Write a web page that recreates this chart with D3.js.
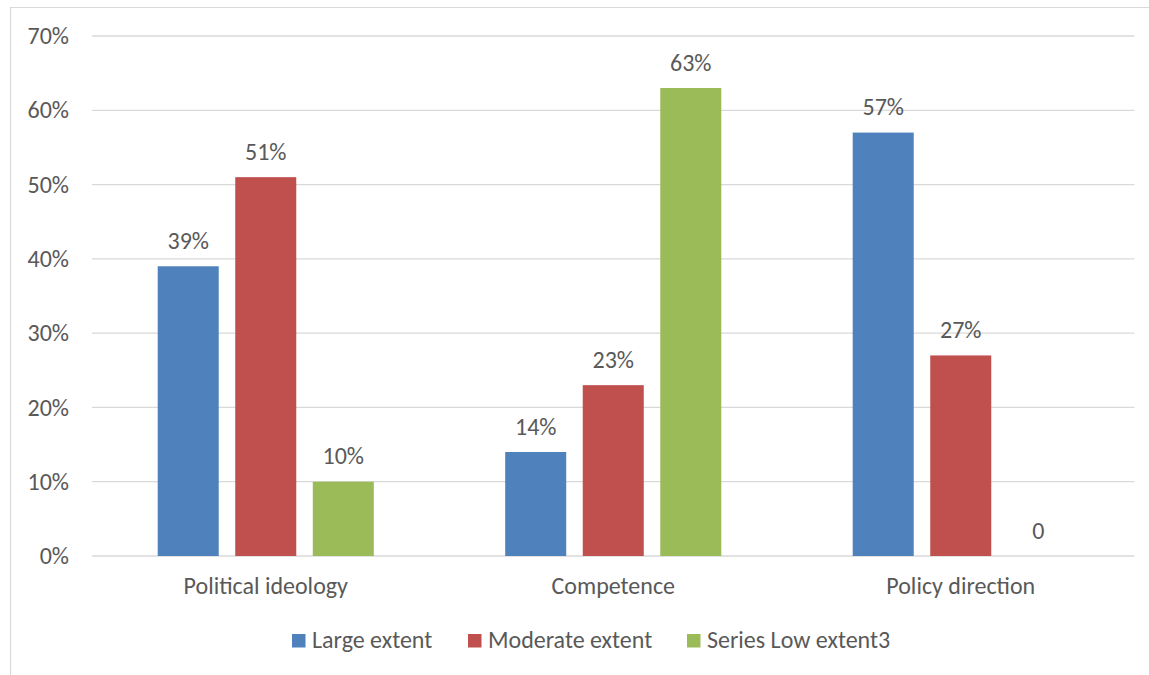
<!DOCTYPE html>
<html>
<head>
<meta charset="utf-8">
<script src="https://cdn.jsdelivr.net/npm/d3@7/dist/d3.min.js"></script>
<style>
  html, body { margin: 0; padding: 0; background: #fff; }
  svg { display: block; }
  text { font-family: Carlito, "Open Sans", sans-serif; fill: #595959; }
</style>
</head>
<body>
<svg id="chart" width="1149" height="675"></svg>
<script>
// Chart data
const categories = ["Political ideology", "Competence", "Policy direction"];
const seriesNames = ["Large extent", "Moderate extent", "Series Low extent3"];
const largeExtent = [39, 14, 57];
const moderateExtent = [51, 23, 27];
const lowExtent = [10, 63, 0];
const yTicks = [0, 10, 20, 30, 40, 50, 60, 70];
const seriesColors = ["#4F81BD", "#C0504D", "#9BBB59"];

const seriesValues = [largeExtent, moderateExtent, lowExtent];

const svg = d3.select("#chart");
const fontSize = 24;

// Outer frame of the chart area
svg.append("path")
  .attr("d", "M10.5,675 L10.5,7.5 L1149,7.5")
  .attr("fill", "none")
  .attr("stroke", "#d9d9d9")
  .attr("stroke-width", 1.2);

const plot = { left: 92, right: 1134.5, top: 36, bottom: 556 };

const y = d3.scaleLinear().domain([0, 70]).range([plot.bottom, plot.top]);
const x0 = d3.scaleBand().domain(categories).range([plot.left, plot.right]).padding(0);
const groupPad = 65.7;
const x1 = d3.scaleBand().domain(seriesNames)
  .range([groupPad, x0.bandwidth() - groupPad])
  .paddingInner(0.213).paddingOuter(0);

// Horizontal gridlines
svg.append("g").selectAll("line").data(yTicks).join("line")
  .attr("x1", plot.left).attr("x2", plot.right)
  .attr("y1", d => y(d)).attr("y2", d => y(d))
  .attr("stroke", "#d9d9d9").attr("stroke-width", 1.3);

// Y axis labels
const yAxis = d3.axisLeft(y).tickValues(yTicks).tickFormat(d => d + "%").tickSize(0).tickPadding(23);
const gy = svg.append("g").attr("transform", `translate(${plot.left},0)`).call(yAxis);
gy.select(".domain").remove();
gy.selectAll("text").attr("font-size", fontSize).attr("fill", "#595959")
  .style("font-family", 'Carlito, "Open Sans", sans-serif');

// X axis category labels
const xAxis = d3.axisBottom(x0).tickSize(0).tickPadding(21);
const gx = svg.append("g").attr("transform", `translate(0,${plot.bottom})`).call(xAxis);
gx.select(".domain").remove();
gx.selectAll("text").attr("font-size", fontSize).attr("fill", "#595959")
  .style("font-family", 'Carlito, "Open Sans", sans-serif');

// Bars and value labels
const rows = [];
categories.forEach((c, ci) => {
  seriesNames.forEach((s, si) => {
    rows.push({ cat: c, series: s, si, value: seriesValues[si][ci] });
  });
});

const groups = svg.append("g");
groups.selectAll("rect").data(rows).join("rect")
  .attr("x", d => x0(d.cat) + x1(d.series))
  .attr("y", d => y(d.value))
  .attr("width", x1.bandwidth())
  .attr("height", d => plot.bottom - y(d.value))
  .attr("fill", d => seriesColors[d.si]);

groups.selectAll("text").data(rows).join("text")
  .attr("x", d => x0(d.cat) + x1(d.series) + x1.bandwidth() / 2)
  .attr("y", d => y(d.value) - 17.5)
  .attr("text-anchor", "middle")
  .attr("font-size", fontSize)
  .text(d => d.value === 0 ? "0" : d.value + "%");

// Legend
const legendX = [292, 468, 687];
const legend = svg.append("g");
seriesNames.forEach((s, i) => {
  legend.append("rect")
    .attr("x", legendX[i]).attr("y", 634)
    .attr("width", 13.5).attr("height", 13.5)
    .attr("fill", seriesColors[i]);
  legend.append("text")
    .attr("x", legendX[i] + 20).attr("y", 647.5)
    .attr("font-size", fontSize)
    .text(s);
});
</script>
</body>
</html>
